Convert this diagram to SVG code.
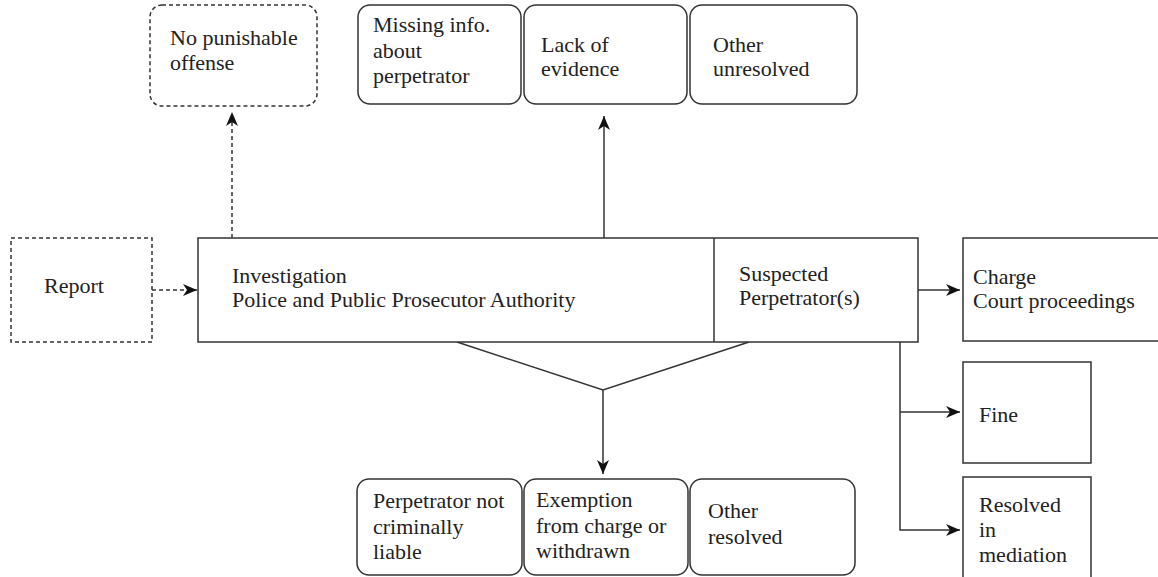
<svg xmlns="http://www.w3.org/2000/svg" width="1158" height="577" viewBox="0 0 1158 577" font-family="Liberation Serif, Times New Roman, serif">
<style>
.box{fill:#fff;stroke:#333;stroke-width:1.5}
.dash{stroke-dasharray:4 3}
.t{font-family:"Liberation Serif",serif;font-size:22px;fill:#222}
.ln{fill:none;stroke:#333;stroke-width:1.5}
</style>
<defs>
<marker id="ah" markerWidth="16" markerHeight="14" refX="14" refY="7" orient="auto" markerUnits="userSpaceOnUse">
<path d="M0,1 L14,7 L0,13 L4,7 z" fill="#111"/>
</marker>
</defs>
<rect width="1158" height="577" fill="#fff"/>
<g id="connectors">
<line class="ln dash" x1="152" y1="290" x2="197" y2="290" marker-end="url(#ah)"/>
<line class="ln dash" x1="232" y1="238" x2="232" y2="112" marker-end="url(#ah)"/>
<line class="ln" x1="604" y1="238" x2="604" y2="116" marker-end="url(#ah)"/>
<polyline class="ln" points="457,342 603,390 749,342"/>
<line class="ln" x1="603" y1="390" x2="603" y2="474" marker-end="url(#ah)"/>
<line class="ln" x1="918" y1="290" x2="960" y2="290" marker-end="url(#ah)"/>
<polyline class="ln" points="900,342 900,530 960,530" marker-end="url(#ah)"/>
<line class="ln" x1="900" y1="412" x2="960" y2="412" marker-end="url(#ah)"/>
</g>
<g id="no-punishable">
<rect class="box dash" x="150" y="5" width="167" height="101" rx="12"/>
<text class="t" x="170" y="45">No punishable</text>
<text class="t" x="170" y="70">offense</text>
</g>
<g id="missing-info">
<rect class="box" x="358" y="5" width="163" height="99" rx="12"/>
<text class="t" x="373" y="32">Missing info.</text>
<text class="t" x="373" y="58">about</text>
<text class="t" x="373" y="83">perpetrator</text>
</g>
<g id="lack-evidence">
<rect class="box" x="524" y="5" width="163" height="99" rx="12"/>
<text class="t" x="541" y="52">Lack of</text>
<text class="t" x="541" y="76">evidence</text>
</g>
<g id="other-unresolved">
<rect class="box" x="690" y="5" width="167" height="99" rx="12"/>
<text class="t" x="713" y="52">Other</text>
<text class="t" x="713" y="76">unresolved</text>
</g>
<g id="report">
<rect class="box dash" x="11" y="238" width="141" height="104"/>
<text class="t" x="44" y="293">Report</text>
</g>
<g id="investigation">
<rect class="box" x="198" y="238" width="720" height="104"/>
<line class="ln" x1="714" y1="238" x2="714" y2="342"/>
<text class="t" x="232" y="283">Investigation</text>
<text class="t" x="232" y="307">Police and Public Prosecutor Authority</text>
<text class="t" x="739" y="281">Suspected</text>
<text class="t" x="739" y="305">Perpetrator(s)</text>
</g>
<g id="charge">
<rect class="box" x="963" y="238" width="200" height="103"/>
<text class="t" x="973" y="284">Charge</text>
<text class="t" x="973" y="308">Court proceedings</text>
</g>
<g id="fine">
<rect class="box" x="963" y="362" width="128" height="101"/>
<text class="t" x="979" y="422">Fine</text>
</g>
<g id="mediation">
<rect class="box" x="963" y="477" width="128" height="110"/>
<text class="t" x="979" y="512">Resolved</text>
<text class="t" x="979" y="537">in</text>
<text class="t" x="979" y="562">mediation</text>
</g>
<g id="not-liable">
<rect class="box" x="357" y="479" width="165" height="96" rx="12"/>
<text class="t" x="373" y="508">Perpetrator not</text>
<text class="t" x="373" y="534">criminally</text>
<text class="t" x="373" y="559">liable</text>
</g>
<g id="exemption">
<rect class="box" x="524" y="479" width="164" height="96" rx="12"/>
<text class="t" x="536" y="507">Exemption</text>
<text class="t" x="536" y="533">from charge or</text>
<text class="t" x="536" y="558">withdrawn</text>
</g>
<g id="other-resolved">
<rect class="box" x="690" y="479" width="165" height="96" rx="12"/>
<text class="t" x="708" y="518">Other</text>
<text class="t" x="708" y="544">resolved</text>
</g>
</svg>
